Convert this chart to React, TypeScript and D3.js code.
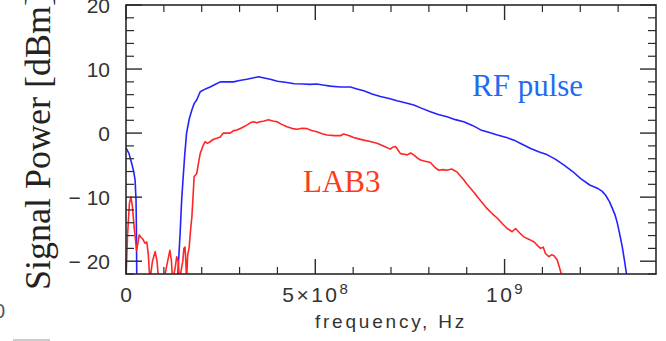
import React from "react";
import * as d3 from "d3";

// frequency in units of 1e8 Hz, power in dBm
const rfFreq = [0, 0.08, 0.15, 0.2, 0.24, 0.265, 0.275, 0.285,
  1.36, 1.43, 1.47, 1.5, 1.55, 1.6, 1.67, 1.74, 1.8, 1.87, 1.96, 2.1, 2.22, 2.35, 2.49, 2.65, 2.84, 3.0, 3.19, 3.35, 3.5, 3.65, 3.81, 4.0, 4.25, 4.45, 4.69, 4.85, 5.04, 5.2, 5.4, 5.66, 5.93, 6.1, 6.28, 6.5, 6.72, 6.95, 7.16, 7.4, 7.6, 7.8, 8.04, 8.25, 8.48, 8.7, 8.92, 9.15, 9.37, 9.6, 9.81, 10.05, 10.25, 10.45, 10.69, 10.9, 11.13, 11.35, 11.57, 11.8, 12.01, 12.25, 12.45, 12.58, 12.67, 12.77, 12.85, 12.92, 12.98, 13.05, 13.11, 13.17, 13.22, 13.25];
const rfPower = [-2.3, -3.2, -4.7, -5.9, -7.3, -10.5, -15, -23,
  -23, -15.6, -10.5, -7.8, -3.5, 0, 2.2, 3.6, 4.6, 5.2, 6.45, 6.9, 7.2, 7.6, 8.0, 8.0, 8.0, 8.2, 8.4, 8.6, 8.8, 8.6, 8.4, 8.1, 7.9, 7.7, 7.66, 7.6, 7.66, 7.5, 7.34, 7.2, 7.2, 6.9, 6.6, 6.1, 5.7, 5.4, 5.05, 4.7, 4.4, 3.9, 3.33, 2.9, 2.55, 2.1, 1.77, 1.2, 0.5, 0.1, -0.3, -0.7, -1.1, -1.7, -2.4, -2.9, -3.4, -4.1, -5.0, -6.0, -7.1, -8.1, -8.6, -9.1, -9.7, -10.7, -11.8, -12.8, -14.1, -16, -17.8, -20, -22, -23];

const labFreq = [0, 0.04, 0.09, 0.13, 0.17, 0.22, 0.28, 0.32, 0.35, 0.4, 0.44, 0.5, 0.55, 0.59, 0.63, 0.7, 0.77, 0.82, 0.86, 1.0, 1.1, 1.16, 1.2, 1.23, 1.3, 1.34, 1.38, 1.41, 1.5, 1.53, 1.56, 1.58, 1.6, 1.63, 1.67, 1.7, 1.74, 1.77, 1.8, 1.87, 1.92, 1.96, 2.04, 2.09, 2.15, 2.22, 2.3, 2.4, 2.49, 2.57, 2.66, 2.75, 2.85, 2.93, 3.05, 3.19, 3.28, 3.37, 3.45, 3.54, 3.65, 3.76, 3.88, 3.99, 4.1, 4.25, 4.4, 4.52, 4.65, 4.78, 4.9, 5.04, 5.18, 5.31, 5.5, 5.66, 5.75, 5.9, 6.01, 6.15, 6.28, 6.45, 6.63, 6.8, 6.98, 7.05, 7.12, 7.18, 7.25, 7.35, 7.43, 7.52, 7.6, 7.7, 7.78, 7.9, 8.04, 8.15, 8.26, 8.37, 8.48, 8.6, 8.75, 8.85, 8.92, 9.0, 9.1, 9.2, 9.28, 9.4, 9.54, 9.68, 9.81, 9.95, 10.07, 10.2, 10.29, 10.4, 10.51, 10.65, 10.78, 10.88, 10.95, 11.02, 11.08, 11.17, 11.24, 11.3, 11.39, 11.45, 11.5, 11.52];
const labPower = [-23, -16, -11, -10, -11.5, -15, -18.3, -17, -15.9, -16.3, -16.5, -17.2, -17.0, -19, -23, -20, -18.5, -20, -23, -23, -20, -18.3, -20, -23, -21, -19.3, -20, -23, -20, -18, -17.8, -20, -23, -19, -17.8, -15.5, -13.1, -10, -6.8, -6.3, -4.5, -3.2, -1.9, -1.35, -1.6, -1.35, -1.0, -0.8, -0.6, 0, 0, 0, 0.4, 0.47, 0.8, 1.25, 1.6, 1.77, 1.6, 1.77, 1.9, 2.1, 1.9, 1.77, 1.4, 1.0, 0.7, 0.6, 0.75, 0.7, 0.4, 0.2, -0.1, -0.3, -0.4, -0.4, -0.15, -0.4, -0.7, -0.9, -1.1, -1.3, -1.6, -2.0, -2.5, -2.2, -2.1, -2.6, -3.2, -3.3, -3.4, -3.1, -3.4, -3.9, -4.2, -4.4, -4.6, -5.3, -5.8, -5.7, -5.8, -5.6, -6.1, -6.8, -7.3, -7.9, -8.6, -9.3, -9.95, -10.8, -11.8, -12.6, -13.3, -14.2, -14.9, -15.4, -14.9, -15.6, -16.2, -16.6, -17.0, -17.6, -18.0, -17.8, -18.8, -19.3, -19.0, -19.1, -19.8, -21, -22, -23];

const yMajorTicks = [-20, -10, 0, 10, 20];
const yMajorLabels = ["\u2212 20", "\u2212 10", "0", "10", "20"];
const yMinorTicks = [-22, -18, -16, -14, -12, -8, -6, -4, -2, 2, 4, 6, 8, 12, 14, 16, 18];
const xMajorTicks = [0, 5, 10];
const xMajorBase = ["0", "5\u00d710", "10"];
const xMajorExp = ["", "8", "9"];
const xMinorTicks = [1, 2, 3, 4, 6, 7, 8, 9, 11, 12, 13];

const X0 = 126, X1 = 656, Y0 = 5, Y1 = 274;

export default function App() {
  const x = d3.scaleLinear().domain([0, 14]).range([X0, X1]);
  const y = d3.scaleLinear().domain([-22, 20]).range([Y1, Y0]);
  const line = d3.line<[number, number]>().x(d => x(d[0])).y(d => y(d[1]));
  const rf = line(rfFreq.map((f, i) => [f, rfPower[i]] as [number, number])) || "";
  const lab = line(labFreq.map((f, i) => [f, labPower[i]] as [number, number])) || "";
  const axisColor = "#2a2a2a";
  const textColor = "#333";
  const sans = "'Liberation Sans', Arial, Helvetica, sans-serif";
  const serif = "'Liberation Serif', 'Times New Roman', serif";
  return (
    <svg width={666} height={341} style={{ position: "absolute", left: 0, top: 0, background: "#fff" }}>
      <defs>
        <clipPath id="plot">
          <rect x={X0} y={Y0} width={X1 - X0} height={Y1 - Y0} />
        </clipPath>
      </defs>
      <g clipPath="url(#plot)" fill="none" strokeWidth={1.6} strokeLinejoin="round">
        <path d={rf} stroke="#2323ff" />
        <path d={lab} stroke="#ff2626" />
      </g>
      {/* frame */}
      <rect x={X0} y={Y0} width={X1 - X0} height={Y1 - Y0} fill="none" stroke={axisColor} strokeWidth={1.6} />
      {/* y ticks */}
      {yMajorTicks.map(t => (
        <g key={"ym" + t} stroke={axisColor} strokeWidth={1.4}>
          <line x1={X0} x2={X0 + 16} y1={y(t)} y2={y(t)} />
          <line x1={X1} x2={X1 - 16} y1={y(t)} y2={y(t)} />
        </g>
      ))}
      {yMinorTicks.map(t => (
        <g key={"yn" + t} stroke={axisColor} strokeWidth={1.2}>
          <line x1={X0} x2={X0 + 8} y1={y(t)} y2={y(t)} />
          <line x1={X1} x2={X1 - 8} y1={y(t)} y2={y(t)} />
        </g>
      ))}
      {xMajorTicks.map(t => (
        <g key={"xm" + t} stroke={axisColor} strokeWidth={1.4}>
          <line x1={x(t)} x2={x(t)} y1={Y1} y2={Y1 - 15} />
          <line x1={x(t)} x2={x(t)} y1={Y0} y2={Y0 + 15} />
        </g>
      ))}
      {xMinorTicks.map(t => (
        <g key={"xn" + t} stroke={axisColor} strokeWidth={1.2}>
          <line x1={x(t)} x2={x(t)} y1={Y1} y2={Y1 - 7} />
          <line x1={x(t)} x2={x(t)} y1={Y0} y2={Y0 + 7} />
        </g>
      ))}
      {/* y tick labels */}
      {yMajorTicks.map((t, i) => (
        <text key={"yl" + t} x={X0 - 16} y={y(t)} dy="0.36em" textAnchor="end" fontFamily={sans} fontSize={21} fill={textColor}>
          {yMajorLabels[i]}
        </text>
      ))}
      {/* x tick labels */}
      {xMajorTicks.map((t, i) => (
        <text key={"xl" + t} x={x(t) + (xMajorExp[i] ? 1 : 0)} y={302} textAnchor="middle" fontFamily={sans} fontSize={21} letterSpacing={xMajorExp[i] ? 2.5 : 0} fill={textColor}>
          {xMajorBase[i]}
          {xMajorExp[i] && (
            <tspan fontSize={15} dy={-8}>{xMajorExp[i]}</tspan>
          )}
        </text>
      ))}
      <text x={391} y={328} textAnchor="middle" fontFamily={sans} fontSize={19} letterSpacing={2.8} fill={textColor}>
        frequency, Hz
      </text>
      <text transform="translate(50,290) rotate(-90)" fontFamily={serif} fontSize={36} fill="#222">
        Signal Power [dBm]
      </text>
      <text x={472} y={96} fontFamily={serif} fontSize={31} fill="#1f6cf2">RF pulse</text>
      <text x={303} y={192} fontFamily={serif} fontSize={31} fill="#ff3a1a">LAB3</text>
      {/* fragments of neighbouring figure */}
      <text x={-6} y={318} fontFamily={sans} fontSize={20} fill="#555">0</text>
      <line x1={13} x2={50} y1={340} y2={340} stroke="#bbb" strokeWidth={1.5} />
    </svg>
  );
}
